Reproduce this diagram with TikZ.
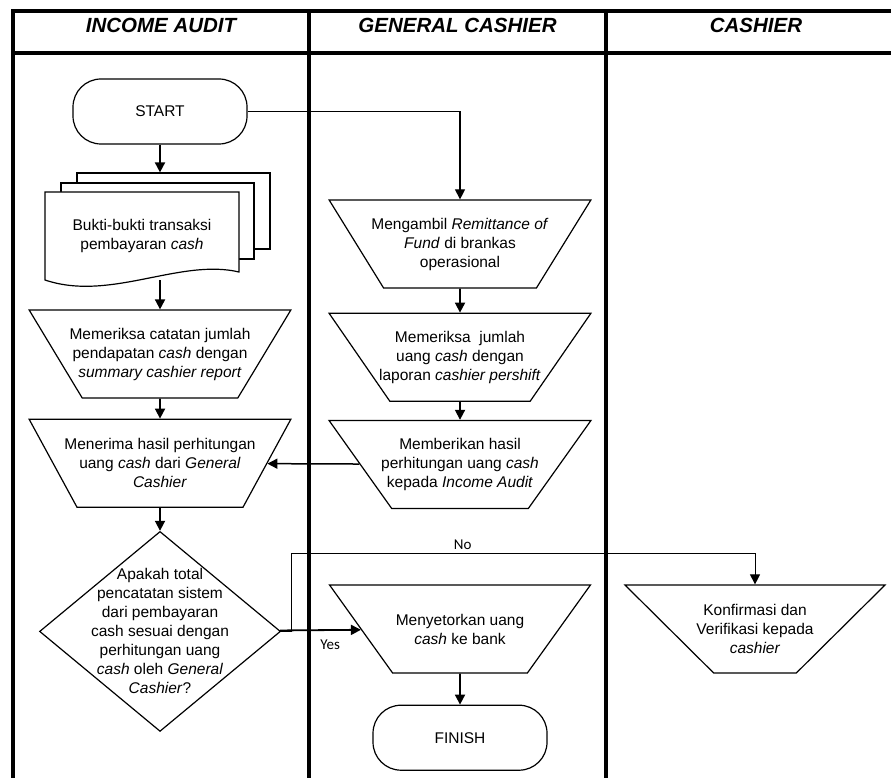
\documentclass[tikz,border=0pt]{standalone}
\usepackage{fontspec}
\setmainfont{Liberation Sans}
\newfontfamily\labelfont{Carlito}
\usetikzlibrary{shapes,arrows.meta,positioning}
\newcommand{\bodyfont}{\fontsize{15.5}{19}\selectfont}
\tikzstyle{lane} = [line width=3.2pt]
\tikzstyle{head} = [font=\fontsize{20.5}{24}\selectfont\bfseries\itshape]
\tikzstyle{terminal} = [rectangle, draw, line width=1.2pt, rounded corners=28pt,
    minimum width=174pt, minimum height=65pt, font=\bodyfont]
\tikzstyle{manual} = [trapezium, draw, line width=1.2pt, trapezium stretches=true,
    trapezium left angle=59.4, trapezium right angle=59.4, shape border rotate=180,
    minimum width=262pt, minimum height=88pt, inner xsep=-45pt, inner ysep=0pt,
    align=center, font=\bodyfont]
\tikzstyle{decision} = [diamond, draw, line width=1.2pt, minimum width=241pt,
    minimum height=200pt, inner sep=-60pt, align=center, font=\bodyfont]
\tikzstyle{sheet} = [rectangle, draw, fill=white, line width=1.2pt,
    minimum width=193pt, minimum height=76pt]
\tikzstyle{line} = [draw, line width=1.8pt, -{Triangle[length=10pt,width=10pt]}]
\tikzstyle{yesno} = [font=\labelfont\fontsize{15}{18}\selectfont]

\begin{document}
\begin{tikzpicture}[x=1pt, y=-1pt]
  \useasboundingbox (0,0) rectangle (891,778);
  % swimlanes
  \draw[lane] (13,790) -- (13,11) -- (900,11);
  \draw[lane] (13,53) -- (900,53);
  \draw[lane] (309,11) -- (309,790);
  \draw[lane] (606,11) -- (606,790);
  \node[head] (hAudit) at (161,25) {INCOME AUDIT};
  \node[head] (hGeneral) at (457.5,25) {GENERAL CASHIER};
  \node[head] (hCashier) at (756,25) {CASHIER};
  %
  \node[terminal] (start) at (160,111.5) {START};
  \node[sheet] (bukti3) at (173.5,211) {};
  \node[sheet] (bukti2) at (157.5,221) {};
  \draw[line width=1.2pt, fill=white] (45,192) -- (239,192) -- (239,272)
    .. controls (180,258) and (110,302) .. (45,280) -- cycle;
  \node[minimum width=194pt, minimum height=88pt, align=center, font=\bodyfont]
    (bukti) at (142,236) {Bukti-bukti transaksi\\pembayaran \textit{cash}};
  \node[manual] (cek) at (160,354) {Memeriksa catatan jumlah\\pendapatan \textit{cash} dengan\\\textit{summary cashier report}};
  \node[manual, below=20pt of cek] (terima) {Menerima hasil perhitungan\\uang \textit{cash} dari \textit{General}\\\textit{Cashier}};
  \node[decision, below=23pt of terima] (keputusan) {Apakah total\\pencatatan sistem\\dari pembayaran\\cash sesuai dengan\\perhitungan uang\\\textit{cash} oleh \textit{General}\\\textit{Cashier}?};
  %
  \node[manual] (ambil) at (460,244) {Mengambil \textit{Remittance of}\\\textit{Fund} di brankas\\operasional};
  \node[manual, below=24pt of ambil] (hitung) {Memeriksa\ \ jumlah\\uang \textit{cash} dengan\\laporan \textit{cashier pershift}};
  \node[manual, below=18pt of hitung] (beri) {Memberikan hasil\\perhitungan uang \textit{cash}\\kepada \textit{Income Audit}};
  \node[manual] (setor) at (460,629) {Menyetorkan uang\\\textit{cash} ke bank};
  \node[terminal, below=31pt of setor] (finish) {FINISH};
  %
  \node[manual] (konfirm) at (755,629) {Konfirmasi dan\\Verifikasi kepada\\\textit{cashier}};
  \coordinate (belok) at (291,553);
  %
  \path[line] (start) -- (start |- bukti3.north);
  \path[line, line width=1.2pt] (start.east) -| (ambil.north);
  \path[line] (cek.north |- bukti.south) -- (cek);
  \path[line] (cek) -- (terima);
  \path[line] (terima) -- (keputusan);
  \path[line] (ambil) -- (hitung);
  \path[line] (hitung) -- (beri);
  \path[line, line width=1.5pt] (beri) -- (terima);
  \path[line] (keputusan) -- node[pos=0.62, below=6pt, yesno]{Yes} (setor);
  \path[line, line width=1pt] (keputusan.east) -| (belok)
    -- node[pos=0.37, above, yesno]{No} (belok -| konfirm.north) -- (konfirm.north);
  \path[line] (setor) -- (finish);
\end{tikzpicture}
\end{document}
